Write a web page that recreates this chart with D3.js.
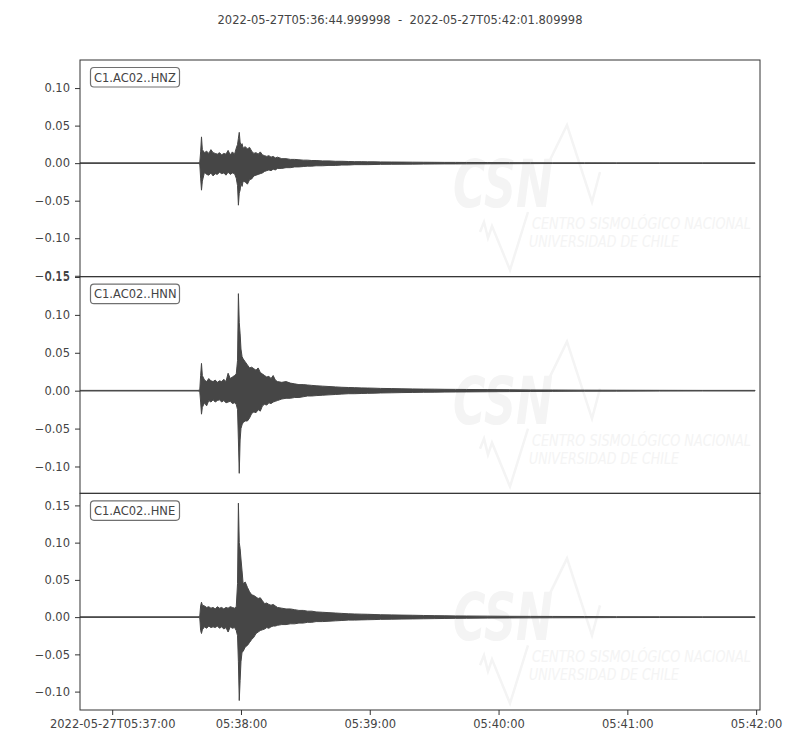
<!DOCTYPE html>
<html>
<head>
<meta charset="utf-8">
<script src="https://cdn.jsdelivr.net/npm/d3@7"></script>
<style>
  body { margin: 0; background: #fff; }
  svg { display: block; }
  text { font-family: "DejaVu Sans", sans-serif; }
</style>
</head>
<body>
<svg id="chart" width="800" height="750"></svg>
<script>
// ---------------- data ----------------
const titleText = "2022-05-27T05:36:44.999998  -  2022-05-27T05:42:01.809998";
const traceStart = "2022-05-27T05:36:45.000Z";
const traceEnd = "2022-05-27T05:42:01.810Z";

const channels = ["C1.AC02..HNZ", "C1.AC02..HNN", "C1.AC02..HNE"];

const xTickTimes = ["2022-05-27T05:37:00Z", "2022-05-27T05:38:00Z", "2022-05-27T05:39:00Z",
                    "2022-05-27T05:40:00Z", "2022-05-27T05:41:00Z", "2022-05-27T05:42:00Z"];
const xTickLabels = ["2022-05-27T05:37:00", "05:38:00", "05:39:00", "05:40:00", "05:41:00", "05:42:00"];

const yTickValues = [-0.15, -0.10, -0.05, 0.00, 0.05, 0.10, 0.15];
const hnzYLimits = [-0.1512, 0.1374];
const hnnYLimits = [-0.1354, 0.1504];
const hneYLimits = [-0.1247, 0.1662];

// envelope sample times, seconds after trace start
const sampleTimes = [
  0, 55, 55.8, 56.2, 56.6, 57, 58, 59, 60, 61,
  62, 63, 64, 65, 66, 67, 68, 69, 70, 71,
  72, 72.8, 73.4, 73.8, 74.2, 74.6, 75, 75.5, 76, 77,
  78, 79, 80, 81, 82, 83, 84, 85, 86, 87,
  88, 89, 90, 91, 92, 94, 96, 98, 100, 102,
  104, 106, 108, 110, 113, 116, 119, 122, 125, 128,
  131, 134, 137, 140, 145, 150, 155, 160, 165, 170,
  175, 180, 190, 200, 210, 220, 235, 250, 270, 290,
  314.5
];

const hnzUpper = [
  0.0004, 0.0004, 0.001, 0.015, 0.035, 0.018, 0.014, 0.016, 0.013, 0.018,
  0.014, 0.013, 0.012, 0.014, 0.011, 0.013, 0.012, 0.017, 0.011, 0.015,
  0.012, 0.020, 0.025, 0.033, 0.041, 0.028, 0.024, 0.026, 0.020, 0.022,
  0.019, 0.021, 0.016, 0.013, 0.014, 0.012, 0.015, 0.011, 0.010, 0.009,
  0.010, 0.008, 0.009, 0.007, 0.008, 0.006, 0.006, 0.005, 0.005, 0.0045,
  0.004, 0.004, 0.0035, 0.0035, 0.003, 0.003, 0.0025, 0.0025, 0.0022, 0.002,
  0.002, 0.0018, 0.0018, 0.0016, 0.0015, 0.0014, 0.0013, 0.0012, 0.0011, 0.001,
  0.001, 0.0009, 0.0008, 0.0007, 0.0006, 0.0005, 0.0005, 0.0004, 0.0004, 0.0004,
  0.0004
];
const hnzLower = [
  -0.0004, -0.0004, -0.001, -0.020, -0.036, -0.024, -0.012, -0.015, -0.016, -0.013,
  -0.017, -0.014, -0.015, -0.012, -0.014, -0.013, -0.016, -0.012, -0.015, -0.013,
  -0.014, -0.020, -0.030, -0.056, -0.040, -0.036, -0.026, -0.031, -0.024, -0.025,
  -0.028, -0.022, -0.021, -0.017, -0.016, -0.015, -0.014, -0.013, -0.011, -0.010,
  -0.009, -0.010, -0.008, -0.009, -0.007, -0.007, -0.006, -0.006, -0.005, -0.005,
  -0.0045, -0.004, -0.004, -0.0035, -0.0035, -0.003, -0.003, -0.0025, -0.0025, -0.002,
  -0.002, -0.002, -0.0018, -0.0016, -0.0015, -0.0014, -0.0013, -0.0012, -0.0011, -0.001,
  -0.001, -0.0009, -0.0008, -0.0007, -0.0006, -0.0005, -0.0005, -0.0004, -0.0004, -0.0004,
  -0.0004
];

const hnnUpper = [
  0.0004, 0.0004, 0.001, 0.020, 0.036, 0.020, 0.014, 0.012, 0.016, 0.013,
  0.012, 0.014, 0.011, 0.013, 0.012, 0.015, 0.012, 0.023, 0.016, 0.018,
  0.020, 0.022, 0.040, 0.128, 0.090, 0.075, 0.055, 0.045, 0.042, 0.038,
  0.034, 0.030, 0.031, 0.029, 0.027, 0.030, 0.024, 0.022, 0.020, 0.018,
  0.019, 0.016, 0.020, 0.014, 0.012, 0.011, 0.012, 0.010, 0.009, 0.008,
  0.008, 0.0075, 0.007, 0.0065, 0.006, 0.0055, 0.005, 0.0045, 0.0042, 0.004,
  0.0037, 0.0035, 0.0033, 0.003, 0.0028, 0.0025, 0.0023, 0.0021, 0.002, 0.0018,
  0.0017, 0.0016, 0.0014, 0.0012, 0.001, 0.0009, 0.0007, 0.0006, 0.0005, 0.0004,
  0.0004
];
const hnnLower = [
  -0.0004, -0.0004, -0.001, -0.015, -0.031, -0.022, -0.016, -0.020, -0.013, -0.015,
  -0.012, -0.015, -0.013, -0.012, -0.015, -0.013, -0.016, -0.015, -0.014, -0.017,
  -0.016, -0.018, -0.025, -0.065, -0.109, -0.065, -0.050, -0.045, -0.042, -0.040,
  -0.040, -0.036, -0.030, -0.028, -0.029, -0.025, -0.027, -0.020, -0.018, -0.019,
  -0.016, -0.017, -0.015, -0.014, -0.013, -0.011, -0.010, -0.010, -0.009, -0.009,
  -0.008, -0.007, -0.007, -0.0065, -0.006, -0.0055, -0.005, -0.0045, -0.004, -0.004,
  -0.0037, -0.0035, -0.0033, -0.003, -0.0028, -0.0025, -0.0023, -0.0021, -0.002, -0.0018,
  -0.0017, -0.0016, -0.0014, -0.0012, -0.001, -0.0009, -0.0007, -0.0006, -0.0005, -0.0004,
  -0.0004
];

const hneUpper = [
  0.0004, 0.0004, 0.001, 0.015, 0.020, 0.016, 0.015, 0.013, 0.014, 0.012,
  0.013, 0.011, 0.014, 0.012, 0.013, 0.011, 0.013, 0.012, 0.014, 0.013,
  0.012, 0.014, 0.045, 0.153, 0.100, 0.092, 0.078, 0.062, 0.045, 0.047,
  0.040, 0.034, 0.030, 0.029, 0.027, 0.025, 0.026, 0.022, 0.018, 0.019,
  0.017, 0.016, 0.017, 0.015, 0.013, 0.012, 0.011, 0.011, 0.010, 0.009,
  0.009, 0.008, 0.008, 0.007, 0.0065, 0.006, 0.0055, 0.005, 0.0045, 0.0042,
  0.004, 0.0038, 0.0035, 0.0032, 0.003, 0.0027, 0.0025, 0.0022, 0.002, 0.0018,
  0.0016, 0.0015, 0.0013, 0.0011, 0.001, 0.0009, 0.0008, 0.0006, 0.0005, 0.0004,
  0.0004
];
const hneLower = [
  -0.0004, -0.0004, -0.001, -0.018, -0.022, -0.017, -0.013, -0.015, -0.012, -0.014,
  -0.013, -0.014, -0.012, -0.015, -0.013, -0.016, -0.014, -0.020, -0.013, -0.015,
  -0.014, -0.018, -0.025, -0.060, -0.112, -0.085, -0.060, -0.047, -0.046, -0.040,
  -0.038, -0.034, -0.030, -0.027, -0.022, -0.020, -0.018, -0.017, -0.016, -0.014,
  -0.015, -0.013, -0.012, -0.012, -0.011, -0.010, -0.010, -0.009, -0.009, -0.008,
  -0.008, -0.007, -0.007, -0.006, -0.006, -0.0055, -0.005, -0.0045, -0.004, -0.004,
  -0.0037, -0.0035, -0.0033, -0.003, -0.0028, -0.0026, -0.0024, -0.0022, -0.002, -0.0018,
  -0.0016, -0.0015, -0.0013, -0.0011, -0.001, -0.0009, -0.0008, -0.0006, -0.0005, -0.0004,
  -0.0004
];

// ---------------- drawing ----------------
(function () {
const W = 800, H = 750;
const plotLeft = 80, plotRight = 760, plotTop = 60, plotBottom = 710;
const panelH = (plotBottom - plotTop) / 3;
const ink = "#444444";
const spine = "#333333";
const traceColor = "#464646";
const wmColor = "#f4f4f4";

const svg = d3.select("#chart");
svg.append("rect").attr("width", W).attr("height", H).attr("fill", "#fff");

const t0 = new Date(traceStart);
const x = d3.scaleUtc().domain([t0, new Date(traceEnd)]).range([plotLeft, plotRight]);

svg.append("text")
  .attr("x", 400).attr("y", 24)
  .attr("text-anchor", "middle")
  .style("white-space", "pre")
  .attr("font-size", "11.5px").attr("fill", ink)
  .text(titleText);

const panels = [
  { name: channels[0], lim: hnzYLimits, up: hnzUpper, lo: hnzLower },
  { name: channels[1], lim: hnnYLimits, up: hnnUpper, lo: hnnLower },
  { name: channels[2], lim: hneYLimits, up: hneUpper, lo: hneLower }
];

const defs = svg.append("defs");

panels.forEach((p, i) => {
  const y0 = plotTop + i * panelH;
  const y = d3.scaleLinear().domain(p.lim).range([y0 + panelH, y0]);
  const clipId = "clip" + i;
  defs.append("clipPath").attr("id", clipId)
    .append("rect").attr("x", plotLeft).attr("y", y0).attr("width", plotRight - plotLeft).attr("height", panelH);

  const g = svg.append("g").attr("clip-path", `url(#${clipId})`);

  // faint CSN watermark
  const wm = g.append("g").attr("transform", `translate(0,${y0})`);
  wm.append("text")
    .attr("x", 453).attr("y", 147)
    .attr("font-family", "Liberation Sans, Arial, sans-serif")
    .attr("font-size", 65).attr("font-weight", "bold").attr("font-style", "italic")
    .attr("textLength", 100).attr("lengthAdjust", "spacingAndGlyphs")
    .attr("fill", wmColor).text("CSN");
  wm.append("path")
    .attr("d", "M549,102 L567,65 L592,142 L600,112")
    .attr("fill", "none").attr("stroke", wmColor).attr("stroke-width", 2.5);
  wm.append("path")
    .attr("d", "M480,172 L484,162 L488,178 L492,166 L510,210 L528,152")
    .attr("fill", "none").attr("stroke", wmColor).attr("stroke-width", 2.5);
  wm.append("text")
    .attr("x", 532).attr("y", 169)
    .attr("font-family", "Liberation Sans Narrow, DejaVu Sans Condensed, sans-serif")
    .attr("font-size", 16.5).attr("font-weight", "normal").attr("font-style", "italic")
    .attr("textLength", 219).attr("lengthAdjust", "spacingAndGlyphs")
    .attr("fill", wmColor).text("CENTRO SISMOLÓGICO NACIONAL");
  wm.append("text")
    .attr("x", 529).attr("y", 187)
    .attr("font-family", "Liberation Sans Narrow, DejaVu Sans Condensed, sans-serif")
    .attr("font-size", 16.5).attr("font-weight", "normal").attr("font-style", "italic")
    .attr("textLength", 150).attr("lengthAdjust", "spacingAndGlyphs")
    .attr("fill", wmColor).text("UNIVERSIDAD DE CHILE");

  // waveform envelope
  const rows = sampleTimes.map((t, k) => ({ t: new Date(t0.getTime() + t * 1000), hi: p.up[k], lo: p.lo[k] }));
  const area = d3.area()
    .x(d => x(d.t))
    .y0(d => y(d.lo))
    .y1(d => y(d.hi));
  g.append("path").datum(rows)
    .attr("d", area)
    .attr("fill", traceColor)
    .attr("stroke", traceColor)
    .attr("stroke-width", 1)
    .attr("stroke-linejoin", "round");

  // frame
  svg.append("rect")
    .attr("x", plotLeft).attr("y", y0).attr("width", plotRight - plotLeft).attr("height", panelH)
    .attr("fill", "none").attr("stroke", spine).attr("stroke-width", 1);

  // y axis
  const [lo, hi] = p.lim;
  const ticks = yTickValues.filter(v => v >= lo - 1e-9 && v <= hi + 1e-9);
  const ya = svg.append("g").attr("transform", `translate(${plotLeft},0)`)
    .call(d3.axisLeft(y).tickValues(ticks).tickFormat(d3.format(".2f")).tickSize(5).tickPadding(5));
  ya.select(".domain").remove();
  ya.selectAll("line").attr("stroke", spine);
  ya.selectAll("text").attr("font-size", "11.5px").attr("fill", ink).attr("font-family", "DejaVu Sans, sans-serif");

  // channel label box
  const lb = svg.append("g");
  lb.append("rect")
    .attr("x", 90.5).attr("y", y0 + 7.5).attr("width", 89).attr("height", 19.5)
    .attr("rx", 3.5).attr("ry", 3.5)
    .attr("fill", "#fff").attr("stroke", "#707070").attr("stroke-width", 1.2);
  lb.append("text")
    .attr("x", 94).attr("y", y0 + 21.5)
    .attr("font-size", "11.5px").attr("fill", ink)
    .text(p.name);
});

// x axis (bottom panel only)
const xa = svg.append("g").attr("transform", `translate(0,${plotBottom})`)
  .call(d3.axisBottom(x)
    .tickValues(xTickTimes.map(s => new Date(s)))
    .tickFormat((d, k) => xTickLabels[k])
    .tickSize(5).tickPadding(5));
xa.select(".domain").remove();
xa.selectAll("line").attr("stroke", spine);
xa.selectAll("text").attr("font-size", "11.5px").attr("fill", ink).attr("font-family", "DejaVu Sans, sans-serif");
})();
</script>
</body>
</html>
